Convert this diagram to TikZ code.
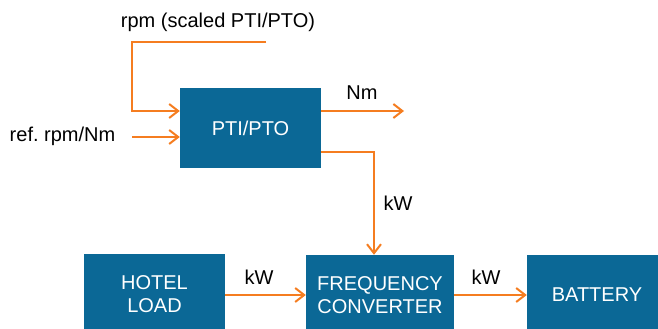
\documentclass[tikz,border=0pt]{standalone}
\usepackage{fontspec}
\setmainfont{Liberation Sans}
\usetikzlibrary{arrows.meta}
\definecolor{boxblue}{RGB}{11,104,150}
\definecolor{flow}{RGB}{245,125,32}
\frenchspacing
\begin{document}
\begin{tikzpicture}[x=1pt,y=-1pt,
  block/.style={fill=boxblue, text=white, align=center, inner sep=0pt,
    font=\fontsize{20}{23}\selectfont},
  lbl/.style={inner sep=0pt, text=black, font=\fontsize{20}{23}\selectfont},
  flowline/.style={draw=flow, line width=2pt},
  flowarrow/.style={flowline, -{Straight Barb[length=9pt,width=14pt,line width=2pt]}},
]
\useasboundingbox (0,0) rectangle (658,329);
\clip (0,0) rectangle (658,329);

% blocks
\node[block, minimum width=141pt, minimum height=80pt] (pti) at (250.5,128) {PTI/PTO};
\node[block, minimum width=141pt, minimum height=81pt] (hotel) at (154.5,294.5) {HOTEL\\LOAD};
\node[block, minimum width=148pt, minimum height=80pt] (freq) at (380,295) {FREQUENCY\\CONVERTER};
\node[block, minimum width=140pt, minimum height=80pt] (batt) at (597,295) {BATTERY};

% labels
\node[lbl] (lrpm) at (218,22) {rpm (scaled PTI/PTO)};
\node[lbl] (lref) at (62.5,136) {ref. rpm/Nm};
\node[lbl] (lnm) at (362,93) {Nm};
\node[lbl] (lkw1) at (398,203) {kW};
\node[lbl] (lkw2) at (259,277) {kW};
\node[lbl] (lkw3) at (486,277) {kW};

% connector coordinates
\coordinate (rpmstart) at (266,42);
\coordinate (rpmbend) at (132,42);
\coordinate (ptiin1) at (pti.west |- 0,111);
\coordinate (refstart) at (132,137);
\coordinate (ptiin2) at (pti.west |- 0,137);
\coordinate (ptiout1) at (pti.east |- 0,111);
\coordinate (nmend) at (404,111);
\coordinate (ptiout2) at (pti.east |- 0,152);
\coordinate (kwbend) at (374,152);
\coordinate (freqin) at (374,0 |- freq.north);

% connectors
\draw[flowarrow] (rpmstart) -- (rpmbend) |- (ptiin1);
\draw[flowarrow] (refstart) -- (ptiin2);
\draw[flowarrow] (ptiout1) -- (nmend);
\draw[flowarrow] (ptiout2) -- (kwbend) -- (freqin);
\draw[flowarrow] (hotel.east |- 0,295) -- (freq.west |- 0,295);
\draw[flowarrow] (freq.east |- 0,295) -- (batt.west |- 0,295);
\end{tikzpicture}
\end{document}
